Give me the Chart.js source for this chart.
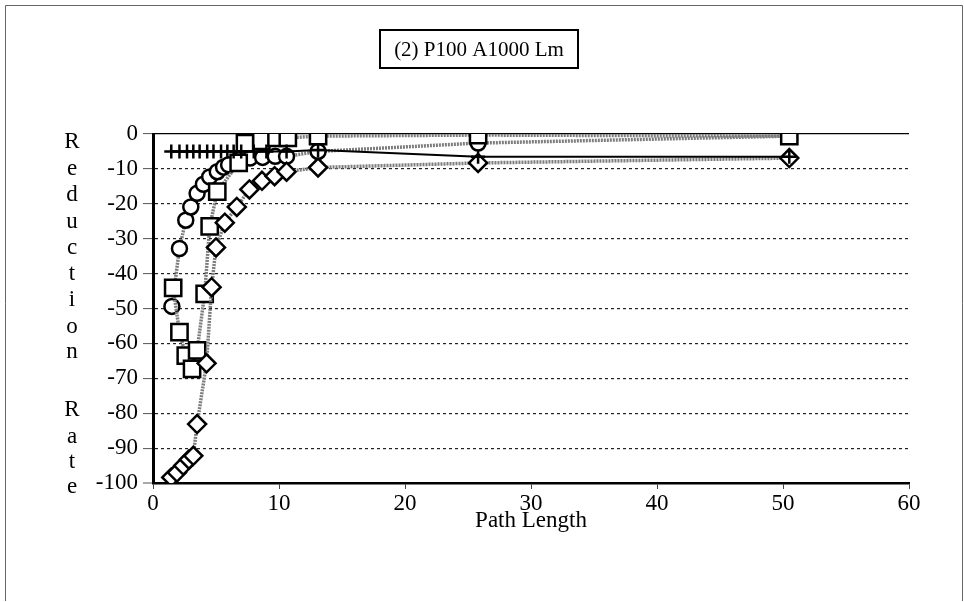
<!DOCTYPE html>
<html>
<head>
<meta charset="utf-8">
<script src="https://cdn.jsdelivr.net/npm/chart.js@4/dist/chart.umd.min.js"></script>
<style>
  html, body { margin: 0; padding: 0; background: #fff; }
  #wrap { position: relative; width: 964px; height: 602px; }
</style>
</head>
<body>
<div id="wrap"><canvas id="c" width="964" height="602"></canvas></div>
<script>
// ---- data ----
const chartTitle = "(2) P100 A1000 Lm";
const xAxisTitle = "Path Length";
const yAxisTitle = "Reduction Rate";
const xTicks = [0, 10, 20, 30, 40, 50, 60];
const yTicks = [0, -10, -20, -30, -40, -50, -60, -70, -80, -90, -100];

const circleX = [1.5, 2.1, 2.6, 3.0, 3.5, 4.0, 4.5, 5.1, 5.6, 6.0, 6.8, 7.7, 8.7, 9.7, 10.6, 13.1, 25.8, 50.5];
const circleY = [-49.4, -32.8, -24.7, -20.9, -17.0, -14.4, -12.3, -10.8, -9.5, -8.8, -7.4, -6.9, -6.7, -6.4, -6.4, -5.0, -2.6, -0.6];

const squareX = [1.6, 2.1, 2.6, 3.1, 3.5, 4.1, 4.5, 5.1, 6.8, 7.3, 8.6, 9.8, 10.7, 13.1, 25.8, 50.5];
const squareY = [-44.1, -56.8, -63.5, -67.3, -62.0, -45.8, -26.5, -16.5, -8.3, -2.6, -2.0, -1.1, -1.1, -0.6, -0.3, -0.6];

const diamondX = [1.45, 1.9, 2.4, 2.85, 3.2, 3.5, 4.25, 4.65, 5.0, 5.7, 6.65, 7.65, 8.65, 9.65, 10.6, 13.1, 25.8, 50.5];
const diamondY = [-98.4, -97.0, -95.0, -93.3, -92.2, -83.1, -65.7, -43.9, -32.5, -25.4, -20.9, -15.9, -13.4, -12.1, -10.8, -9.6, -8.3, -6.9];

const plusX = [1.45, 2.1, 2.7, 3.2, 3.7, 4.3, 4.8, 5.4, 5.9, 6.4, 7.0, 8.0, 9.0, 10.6, 13.1, 25.8, 50.5];
const plusY = [-5.0, -5.0, -5.0, -5.0, -5.0, -5.0, -5.0, -5.0, -5.0, -5.0, -5.0, -5.0, -5.0, -5.0, -4.6, -6.5, -6.5];

function pts(xs, ys) { return xs.map((x, i) => ({ x: x, y: ys[i] })); }

const SERIF = "'Liberation Serif', 'Times New Roman', serif";

const extras = {
  id: 'extras',
  afterDraw(chart) {
    const ctx = chart.ctx;
    ctx.save();
    // outer frame
    ctx.strokeStyle = '#666';
    ctx.lineWidth = 1;
    ctx.beginPath();
    ctx.moveTo(5.5, 601); ctx.lineTo(5.5, 5.5); ctx.lineTo(962.5, 5.5); ctx.lineTo(962.5, 601);
    ctx.stroke();
    // title box
    ctx.strokeStyle = '#000';
    ctx.lineWidth = 2;
    ctx.strokeRect(380, 30, 198, 38);
    ctx.fillStyle = '#000';
    ctx.font = "21px " + SERIF;
    ctx.textAlign = 'center';
    ctx.textBaseline = 'middle';
    ctx.fillText(chartTitle, 479, 50);
    // stacked y-axis title
    ctx.font = "23px " + SERIF;
    const ys = [141.7, 169, 195, 221.7, 248, 274, 300, 326.7, 351.7, null, 410, 436.7, 461.7, 486.7];
    const letters = yAxisTitle.split('');
    for (let i = 0; i < letters.length; i++) {
      if (letters[i] === ' ' || ys[i] == null) continue;
      ctx.fillText(letters[i], 72, ys[i]);
    }
    ctx.restore();
  }
};

new Chart(document.getElementById('c'), {
  type: 'scatter',
  data: {
    datasets: [
      {
        label: 'circle', data: pts(circleX, circleY), showLine: true,
        borderColor: '#7d7d7d', borderWidth: 3.5, borderDash: [2, 1],
        pointStyle: 'circle', pointRadius: 7.5, pointBorderWidth: 2.5,
        pointBorderColor: '#000', pointBackgroundColor: '#fff', order: 4
      },
      {
        label: 'square', data: pts(squareX, squareY), showLine: true,
        borderColor: '#7d7d7d', borderWidth: 3.5, borderDash: [2, 1],
        pointStyle: 'rect', pointRadius: 11.5, pointBorderWidth: 2.5,
        pointBorderColor: '#000', pointBackgroundColor: '#fff', order: 3
      },
      {
        label: 'diamond', data: pts(diamondX, diamondY), showLine: true,
        borderColor: '#7d7d7d', borderWidth: 3.5, borderDash: [2, 1],
        pointStyle: 'rectRot', pointRadius: 9, pointBorderWidth: 2.5,
        pointBorderColor: '#000', pointBackgroundColor: '#fff', order: 2
      },
      {
        label: 'plus', data: pts(plusX, plusY), showLine: true,
        borderColor: '#000', borderWidth: 2,
        pointStyle: 'cross', pointRadius: 7, pointBorderWidth: 2.5,
        pointBorderColor: '#000', pointBackgroundColor: '#000', order: 1
      }
    ]
  },
  options: {
    responsive: false,
    animation: false,
    events: [],
    layout: { padding: { top: 134, right: 55, left: 0, bottom: 0 } },
    plugins: { legend: { display: false }, tooltip: { enabled: false } },
    scales: {
      x: {
        type: 'linear', min: 0, max: 60,
        afterFit(s) { s.height = 119; },
        afterBuildTicks(s) { s.ticks = xTicks.map(v => ({ value: v })); },
        grid: { drawOnChartArea: false, drawTicks: true, tickLength: 6, tickColor: '#444', tickWidth: 1 },
        border: { display: true, color: '#000', width: 2.5 },
        ticks: { color: '#000', font: { family: SERIF, size: 23 }, padding: 1, maxRotation: 0 },
        title: { display: true, text: xAxisTitle, color: '#000', font: { family: SERIF, size: 23 }, padding: { top: 0, bottom: 67 } }
      },
      y: {
        type: 'linear', min: -100, max: 0,
        afterFit(s) { s.width = 153; },
        afterBuildTicks(s) { s.ticks = yTicks.map(v => ({ value: v })); },
        grid: {
          drawOnChartArea: true, drawTicks: true, tickLength: 10, tickColor: '#555', tickWidth: 1,
          color: (c) => (c.tick && c.tick.value === 0) ? '#000' : '#222',
          lineWidth: (c) => (c.tick && c.tick.value === -100) ? 0 : 1.2
        },
        border: {
          display: true, color: '#000', width: 3,
          dash: (c) => (c.tick && c.tick.value === 0) ? [] : [3, 3]
        },
        ticks: { color: '#000', font: { family: SERIF, size: 23 }, padding: 5 }
      }
    }
  },
  plugins: [extras]
});
</script>
</body>
</html>
